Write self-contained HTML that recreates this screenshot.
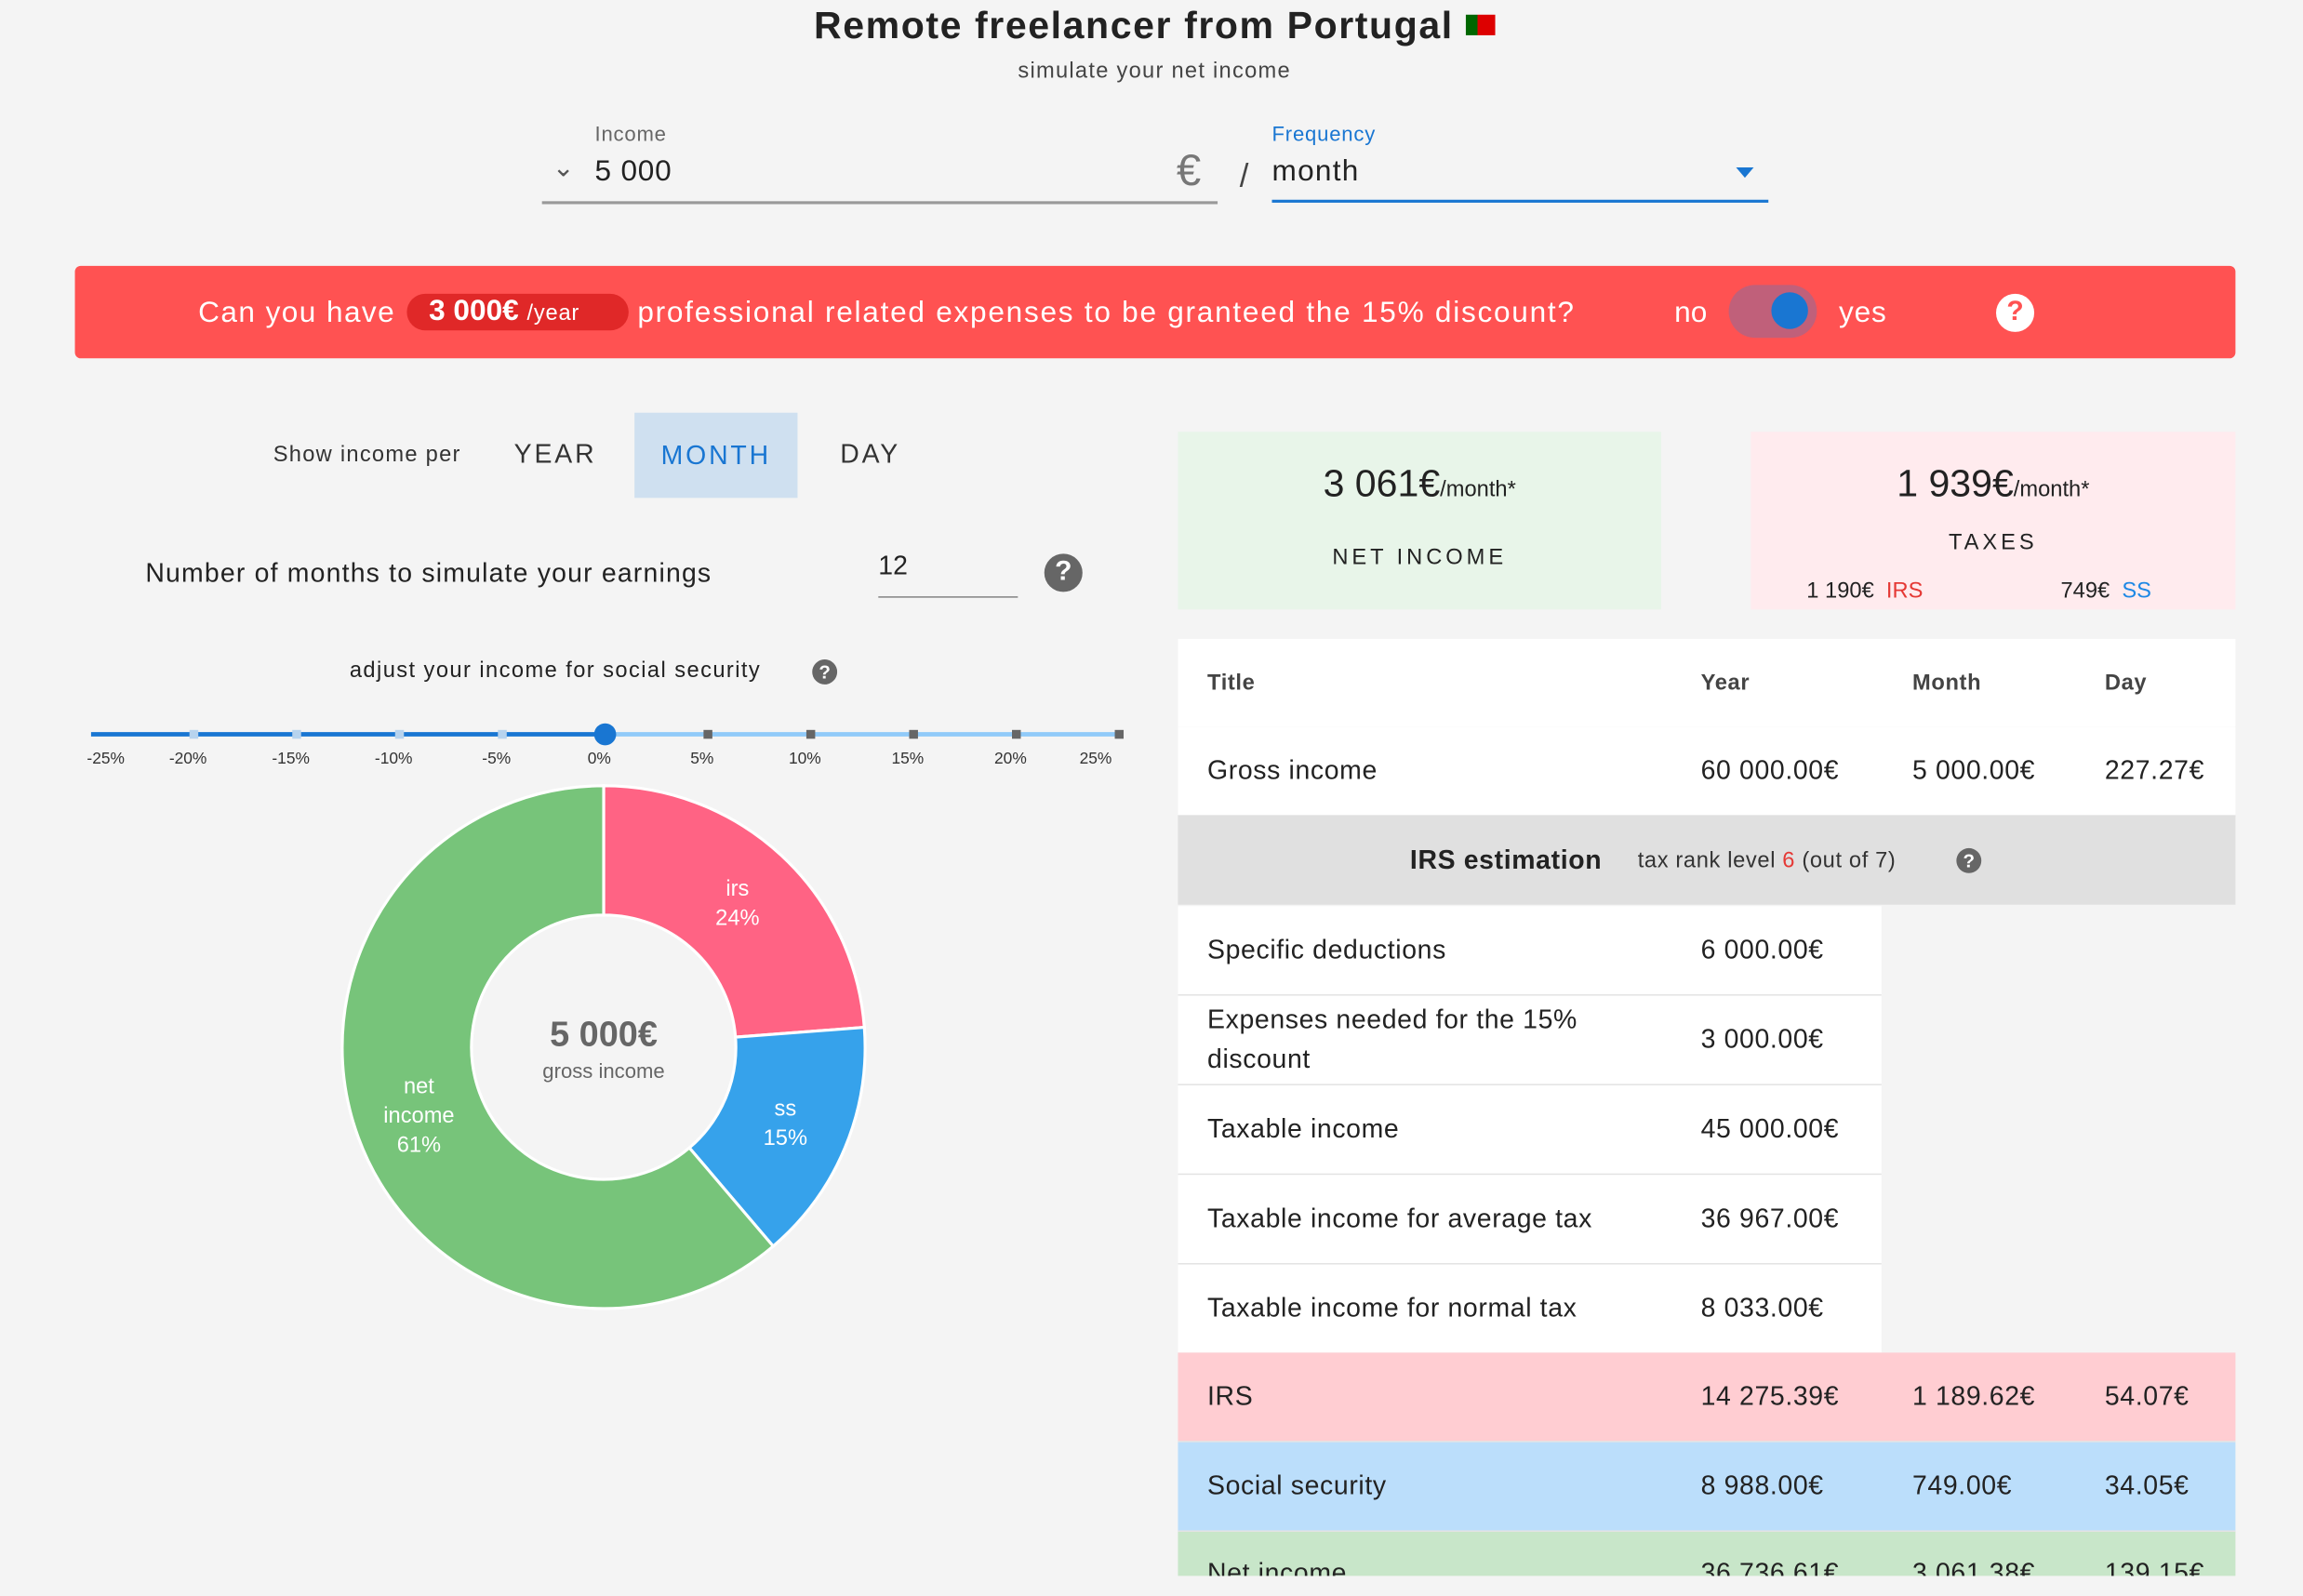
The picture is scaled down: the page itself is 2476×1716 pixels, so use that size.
<!DOCTYPE html>
<html><head><meta charset="utf-8">
<style>
html,body{margin:0;padding:0;background:#f4f4f4;width:2476px;height:1716px;overflow:hidden;font-family:"Liberation Sans",sans-serif;}
#root{position:absolute;left:0;top:0;width:1568px;height:1087px;transform:scale(1.5791);transform-origin:0 0;color:#222;}
.a{position:absolute;white-space:nowrap;}
.row{position:absolute;left:802px;height:60px;border-bottom:1px solid #e3e3e3;font-size:18px;color:#222;letter-spacing:0.4px;}
.row > span{position:absolute;top:50%;transform:translateY(-50%);white-space:nowrap;}
.row span span{position:static;transform:none;}
</style></head><body>
<div id="root">
<div class="a" style="left:0;width:1572px;text-align:center;top:2px;font-size:26px;font-weight:bold;color:#222;letter-spacing:1px;">Remote freelancer from Portugal <span style="display:inline-block;width:20px;height:14px;background:linear-gradient(90deg,#060 40%,#d00 40%);vertical-align:2px;"></span></div>
<div class="a" style="left:0;width:1572px;text-align:center;top:40px;font-size:15px;color:#444;letter-spacing:0.8px;">simulate your net income</div>

<div class="a" style="left:405px;top:83px;font-size:14px;color:#666;letter-spacing:0.5px;">Income</div>
<div class="a" style="left:369px;top:103px;width:460px;height:34px;border-bottom:2px solid #999;">
 <span class="a" style="left:7px;top:1px;font-size:18px;color:#555;">&#8964;</span>
 <span class="a" style="left:36px;top:3px;font-size:20px;color:#222;letter-spacing:0.5px;">5 000</span>
 <span class="a" style="left:432px;top:-3px;font-size:30px;color:#777;">€</span>
</div>
<div class="a" style="left:844px;top:107px;font-size:22px;color:#444;">/</div>
<div class="a" style="left:866px;top:83px;font-size:14px;color:#1976d2;letter-spacing:0.5px;">Frequency</div>
<div class="a" style="left:866px;top:103px;width:338px;height:33px;border-bottom:2.5px solid #1976d2;">
 <span class="a" style="left:0;top:3px;font-size:20px;color:#222;letter-spacing:0.8px;">month</span>
 <span class="a" style="left:316px;top:11px;width:0;height:0;border-left:6px solid transparent;border-right:6px solid transparent;border-top:7px solid #1976d2;"></span>
</div>

<div class="a" style="left:51px;top:181px;width:1471px;height:63px;background:#ff5252;border-radius:4px;">
 <span class="a" style="left:84px;top:21px;font-size:20px;color:#fff;letter-spacing:0.9px;">Can you have</span>
 <span class="a" style="left:226px;top:19px;width:151px;height:25px;background:#e02828;border-radius:13px;color:#fff;font-size:20px;line-height:25px;"><b style="margin-left:15px;">3 000€</b> <span style="font-size:15px;letter-spacing:0.5px;">/year</span></span>
 <span class="a" style="left:383px;top:21px;font-size:20px;color:#fff;letter-spacing:1.1px;">professional related expenses to be granteed the 15% discount?</span>
 <span class="a" style="left:1089px;top:21px;font-size:20px;color:#fff;">no</span>
 <span class="a" style="left:1126px;top:13px;width:60px;height:36px;border-radius:18px;background:#c0607a;"><span class="a" style="left:29px;top:5px;width:25px;height:25px;border-radius:50%;background:#1976d2;"></span></span>
 <span class="a" style="left:1201px;top:21px;font-size:20px;color:#fff;letter-spacing:0.5px;">yes</span>
 <span class="a" style="left:1308px;top:19px;width:26px;height:26px;border-radius:50%;background:#fff;color:#ff5252;font-weight:bold;font-size:19px;text-align:center;line-height:26px;">?</span>
</div>

<div class="a" style="left:186px;top:301px;font-size:15px;color:#333;letter-spacing:0.8px;">Show income per</div>
<div class="a" style="left:350px;top:299px;font-size:18px;color:#333;letter-spacing:1.8px;">YEAR</div>
<div class="a" style="left:432px;top:281px;width:111px;height:58px;background:#cfe0f0;color:#1976d2;font-size:18px;letter-spacing:1.8px;text-align:center;line-height:58px;">MONTH</div>
<div class="a" style="left:572px;top:299px;font-size:18px;color:#333;letter-spacing:1.8px;">DAY</div>

<div class="a" style="left:99px;top:380px;font-size:18px;color:#222;letter-spacing:0.75px;">Number of months to simulate your earnings</div>
<div class="a" style="left:598px;top:375px;width:95px;height:31px;border-bottom:1px solid #888;font-size:18px;">12</div>
<div class="a" style="left:711px;top:377px;width:26px;height:26px;border-radius:50%;background:#666;color:#fff;font-weight:bold;font-size:19px;text-align:center;line-height:26px;">?</div>

<div class="a" style="left:238px;top:448px;font-size:15px;color:#222;letter-spacing:0.9px;">adjust your income for social security</div>
<div class="a" style="left:553px;top:449px;width:17px;height:17px;border-radius:50%;background:#666;color:#fff;font-weight:bold;font-size:13px;text-align:center;line-height:17px;">?</div>

<svg class="a" id="slider" style="left:0;top:480px;" width="800" height="60"></svg>

<svg class="a" id="donut" style="left:221px;top:523px;" width="380" height="380"></svg>

<div class="a" style="left:802px;top:294px;width:329px;height:121px;background:#e8f5e9;text-align:center;">
 <div style="margin-top:20px;font-size:26px;color:#222;">3 061€<span style="font-size:15px;">/month*</span></div>
 <div style="margin-top:26px;font-size:15px;letter-spacing:2.5px;color:#222;">NET INCOME</div>
</div>
<div class="a" style="left:1192px;top:294px;width:330px;height:121px;background:#ffebee;">
 <div style="margin-top:20px;text-align:center;font-size:26px;color:#222;">1 939€<span style="font-size:15px;">/month*</span></div>
 <div style="margin-top:16px;text-align:center;font-size:15px;letter-spacing:2.5px;color:#222;">TAXES</div>
 <span class="a" style="left:38px;top:100px;font-size:15px;">1 190€ &nbsp;<span style="color:#e53935;">IRS</span></span>
 <span class="a" style="left:211px;top:100px;font-size:15px;">749€ &nbsp;<span style="color:#1e88e5;">SS</span></span>
</div>

<div class="row" style="top:435px;width:720px;background:#fff;font-weight:bold;font-size:15px;color:#444;"><span style="left:20px">Title</span><span style="left:356px">Year</span><span style="left:500px">Month</span><span style="left:631px">Day</span></div>
<div class="row" style="top:495px;width:720px;background:#fff;"><span style="left:20px">Gross income</span><span style="left:356px">60 000.00€</span><span style="left:500px">5 000.00€</span><span style="left:631px">227.27€</span></div>
<div class="row" style="top:555px;width:720px;height:61px;background:#e0e0e0;border:none;"><span style="left:158px;font-weight:bold;">IRS estimation</span><span style="left:313px;font-size:15px;color:#333;">tax rank level <span style="color:#e53935;">6</span> (out of 7)</span><span style="left:530px;width:17px;height:17px;border-radius:50%;background:#666;color:#fff;font-weight:bold;font-size:13px;text-align:center;line-height:17px;letter-spacing:0;">?</span></div>
<div class="row" style="top:617px;width:479px;background:#fff;"><span style="left:20px">Specific deductions</span><span style="left:356px">6 000.00€</span></div>
<div class="row" style="top:678px;width:479px;background:#fff;"><span style="left:20px;white-space:normal;width:290px;line-height:27px;">Expenses needed for the 15% discount</span><span style="left:356px">3 000.00€</span></div>
<div class="row" style="top:739px;width:479px;background:#fff;"><span style="left:20px">Taxable income</span><span style="left:356px">45 000.00€</span></div>
<div class="row" style="top:800px;width:479px;background:#fff;"><span style="left:20px">Taxable income for average tax</span><span style="left:356px">36 967.00€</span></div>
<div class="row" style="top:861px;width:479px;background:#fff;"><span style="left:20px">Taxable income for normal tax</span><span style="left:356px">8 033.00€</span></div>
<div class="row" style="top:921px;width:720px;background:#ffcdd2;"><span style="left:20px">IRS</span><span style="left:356px">14 275.39€</span><span style="left:500px">1 189.62€</span><span style="left:631px">54.07€</span></div>
<div class="row" style="top:982px;width:720px;background:#bbdefb;"><span style="left:20px">Social security</span><span style="left:356px">8 988.00€</span><span style="left:500px">749.00€</span><span style="left:631px">34.05€</span></div>
<div class="a" style="left:802px;top:1043px;width:720px;height:30px;background:#c8e6c9;overflow:hidden;font-size:18px;letter-spacing:0.4px;"><span class="a" style="left:20px;top:18px;">Net income</span><span class="a" style="left:356px;top:18px;">36 736.61€</span><span class="a" style="left:500px;top:18px;">3 061.38€</span><span class="a" style="left:631px;top:18px;">139.15€</span></div>
</div>
<script>
const sliderTicks=[-25,-20,-15,-10,-5,0,5,10,15,20,25];
const sliderValue=0;
const sliceLabels=["irs","ss","net income"];
const sliceValues=[1189.62,749.00,3061.38];
const sliceColors=["#ff6384","#36a2eb","#77c47a"];
const NS="http://www.w3.org/2000/svg";
function mk(p,t,a){const e=document.createElementNS(NS,t);for(const k in a)e.setAttribute(k,a[k]);p.appendChild(e);return e;}
const s=document.getElementById('slider');
const x0=62,x1=762,yy=20;
const sx=v=>x0+(v-sliderTicks[0])/(sliderTicks[sliderTicks.length-1]-sliderTicks[0])*(x1-x0);
let l=mk(s,'line',{x1:sx(sliderValue),x2:x1,y1:yy,y2:yy,stroke:'#90caf9','stroke-width':3});


l=mk(s,'line',{x1:x0,x2:sx(sliderValue),y1:yy,y2:yy,stroke:'#1976d2','stroke-width':3});


sliderTicks.forEach((v,i)=>{
 const x=sx(v);
 if(v!==sliderValue&&v!==sliderTicks[0]){const m=mk(s,'rect',{x:x-3,y:yy-3,width:6,height:6,fill:v<sliderValue?'#b7d3ee':'#666'});
 
 }
 const off=i===0?10:(i===sliderTicks.length-1?-16:-4);
 const t=mk(s,'text',{x:x+off,y:40,'font-size':11,'text-anchor':'middle',fill:'#333','font-family':'Liberation Sans, sans-serif'});
 t.textContent=v+'%';
 
 
});
const th=mk(s,'circle',{cx:sx(sliderValue),cy:yy,r:7.5,fill:'#1976d2'});


const d=document.getElementById('donut');
const cx=190,cy=190,R=178,r=90;
const tot=sliceValues.reduce((a,b)=>a+b,0);
let ang=0;
const pt=(a,rad)=>[cx+rad*Math.sin(a),cy-rad*Math.cos(a)];
sliceValues.forEach((v,i)=>{
 const a0=ang,a1=ang+v/tot*2*Math.PI;ang=a1;
 const lg=(a1-a0)>Math.PI?1:0;
 const [ax,ay]=pt(a0,R),[bx,by]=pt(a1,R),[ix,iy]=pt(a1,r),[jx,jy]=pt(a0,r);
 const p=mk(d,'path',{d:`M${ax},${ay}A${R},${R} 0 ${lg} 1 ${bx},${by}L${ix},${iy}A${r},${r} 0 ${lg} 0 ${jx},${jy}Z`,fill:sliceColors[i],stroke:'#fff','stroke-width':2});
 
 
 const m=(a0+a1)/2,[lx,ly]=pt(m,(R+r)/2);
 const lines=sliceLabels[i].split(' ').concat([Math.round(v/tot*100)+'%']);
 const t=mk(d,'text',{'font-size':15,fill:'#fff','text-anchor':'middle','font-family':'Liberation Sans, sans-serif'});
 
 
 lines.forEach((s2,k)=>{const ts=mk(t,'tspan',{x:lx,y:ly+(k-(lines.length-1)/2)*20+5});ts.textContent=s2;});
});
let c=mk(d,'text',{x:cx,y:cy-1,'font-size':24,'font-weight':'bold',fill:'#666','text-anchor':'middle','font-family':'Liberation Sans, sans-serif'});
c.textContent='5 000€';


c=mk(d,'text',{x:cx,y:cy+21,'font-size':14,fill:'#666','text-anchor':'middle','font-family':'Liberation Sans, sans-serif'});
c.textContent='gross income';


</script>
</body></html>
